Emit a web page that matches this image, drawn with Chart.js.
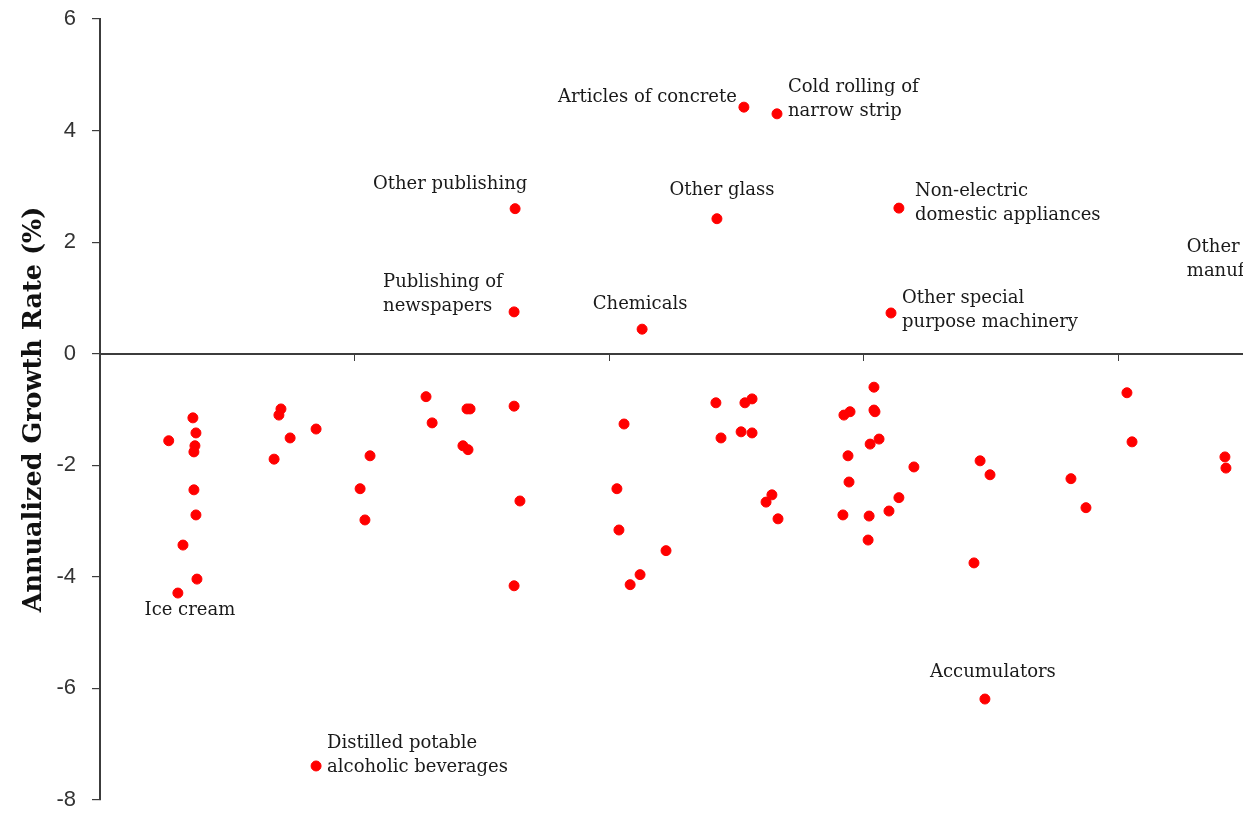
<!DOCTYPE html>
<html lang="en">
<head>
<meta charset="UTF-8">
<title>Annualized Growth Rate by Industry</title>
<script src="https://cdn.jsdelivr.net/npm/chart.js"></script>
<style>
  html, body { margin: 0; padding: 0; background: #fff; overflow: hidden; }
</style>
</head>
<body>
<canvas id="growthChart" width="1243" height="815"></canvas>
<script>
  // unlabelled industries: position along the x axis and growth rate (%)
  const pointX = [
    0.27, 0.365, 0.377, 0.373, 0.369, 0.369, 0.377, 0.326, 0.381,
    0.711, 0.703, 0.747, 0.849, 0.684,
    1.061, 1.022, 1.041,
    1.281, 1.305, 1.442, 1.454, 1.426, 1.446,
    1.627, 1.65, 1.627,
    2.059, 2.031, 2.039, 2.224, 2.122, 2.083,
    2.42, 2.44, 2.534, 2.562, 2.519, 2.562, 2.64, 2.617, 2.664,
    3.041, 2.923, 2.947, 3.041, 3.045, 3.026, 3.061, 2.939, 2.943, 3.198,
    2.919, 3.022, 3.1, 3.139, 3.018,
    3.458, 3.497, 3.434,
    3.815, 3.874, 4.035, 4.055, 4.42, 4.424
  ];
  const pointY = [
    -1.56, -1.15, -1.42, -1.65, -1.76, -2.44, -2.89, -3.43, -4.04,
    -0.99, -1.10, -1.51, -1.35, -1.89,
    -1.83, -2.42, -2.98,
    -0.77, -1.24, -0.99, -0.99, -1.65, -1.72,
    -0.94, -2.64, -4.16,
    -1.26, -2.42, -3.16, -3.53, -3.96, -4.14,
    -0.88, -1.51, -0.88, -0.81, -1.40, -1.42, -2.53, -2.66, -2.96,
    -0.60, -1.10, -1.04, -1.01, -1.04, -1.62, -1.53, -1.83, -2.30, -2.03,
    -2.89, -2.91, -2.82, -2.58, -3.34,
    -1.92, -2.17, -3.75,
    -2.24, -2.76, -0.70, -1.58, -1.85, -2.05
  ];

  // labelled industries
  const namedLabels = [
    ['Ice cream'],
    ['Distilled potable', 'alcoholic beverages'],
    ['Publishing of', 'newspapers'],
    ['Other publishing'],
    ['Chemicals'],
    ['Other glass'],
    ['Articles of concrete'],
    ['Cold rolling of', 'narrow strip'],
    ['Other special', 'purpose machinery'],
    ['Non-electric', 'domestic appliances'],
    ['Accumulators'],
    ['Other', 'manufacturing n.e.c.']
  ];
  const namedX = [0.306, 0.849, 1.627, 1.631, 2.13, 2.424, 2.53, 2.66, 3.108, 3.139, 3.477, 4.95];
  const namedY = [-4.29, -7.39, 0.75, 2.60, 0.44, 2.42, 4.42, 4.30, 0.73, 2.61, -6.19, 1.70];

  // label text placement relative to its point (pixels)
  const labelPlacement = [
    { align: 'center', dx: 12, dy: 17 },
    { align: 'left', dx: 11, dy: -23 },
    { align: 'left', dx: -131, dy: -30 },
    { align: 'center', dx: -65, dy: -24 },
    { align: 'center', dx: -2, dy: -25 },
    { align: 'center', dx: 5, dy: -28 },
    { align: 'right', dx: -7, dy: -10 },
    { align: 'left', dx: 11, dy: -27 },
    { align: 'left', dx: 11, dy: -15 },
    { align: 'left', dx: 16, dy: -17 },
    { align: 'center', dx: 8, dy: -27 },
    { align: 'left', dx: -173, dy: -12 }
  ];

  const allPoints = pointX.map((x, i) => ({ x: x, y: pointY[i] }))
    .concat(namedX.map((x, i) => ({ x: x, y: namedY[i] })));

  const axisColor = '#3c3c3c';

  // no extra room for tick labels, the chart area is set by layout padding
  function noScalePadding(scale) {
    scale.paddingTop = 0;
    scale.paddingBottom = 0;
    scale.paddingLeft = 0;
    scale.paddingRight = 0;
  }

  const pointLabels = {
    id: 'pointLabels',
    afterDatasetsDraw(chart) {
      const ctx = chart.ctx;
      const xs = chart.scales.x, ys = chart.scales.y;
      ctx.save();
      ctx.font = '18px "DejaVu Serif"';
      ctx.fillStyle = '#1a1a1a';
      ctx.textBaseline = 'middle';
      namedLabels.forEach((lines, i) => {
        const p = labelPlacement[i];
        const px = xs.getPixelForValue(namedX[i]);
        const py = ys.getPixelForValue(namedY[i]);
        ctx.textAlign = p.align;
        lines.forEach((line, j) => {
          ctx.fillText(line, px + p.dx, py + p.dy + j * 24.5);
        });
      });
      ctx.restore();
    }
  };

  const ctx = document.getElementById('growthChart').getContext('2d');
  const chart = new Chart(ctx, {
    type: 'scatter',
    data: {
      datasets: [{
        data: allPoints,
        backgroundColor: '#ff0000',
        borderColor: '#ff0000',
        borderWidth: 1,
        pointRadius: 5,
        pointHoverRadius: 5
      }]
    },
    options: {
      responsive: false,
      animation: false,
      layout: { autoPadding: false, padding: { top: 19, bottom: 15, left: 0, right: 0 } },
      plugins: {
        legend: { display: false },
        tooltip: { enabled: false }
      },
      scales: {
        x: {
          type: 'linear',
          position: { y: 0 },
          min: 0,
          max: 4.491,
          afterFit(scale) { scale.height = 0; noScalePadding(scale); },
          afterBuildTicks(scale) {
            scale.ticks = scale.ticks.filter(t => Number.isInteger(t.value));
          },
          ticks: { display: false, stepSize: 1 },
          grid: { drawOnChartArea: false, tickLength: 6, color: axisColor, lineWidth: 1 },
          border: { color: axisColor, width: 2 }
        },
        y: {
          min: -8,
          max: 6,
          afterFit(scale) { scale.width = 100; noScalePadding(scale); },
          ticks: {
            stepSize: 2,
            padding: 16,
            color: '#333',
            font: { family: '"Liberation Sans"', size: 22 }
          },
          grid: { drawOnChartArea: false, tickLength: 8, color: axisColor, lineWidth: 1.2 },
          border: { color: axisColor, width: 2 },
          title: {
            display: true,
            text: 'Annualized Growth Rate (%)',
            color: '#111',
            padding: { top: 19, bottom: 0 },
            font: { family: '"DejaVu Serif"', size: 25.5, weight: 'bold' }
          }
        }
      }
    },
    plugins: [pointLabels]
  });
</script>
</body>
</html>
